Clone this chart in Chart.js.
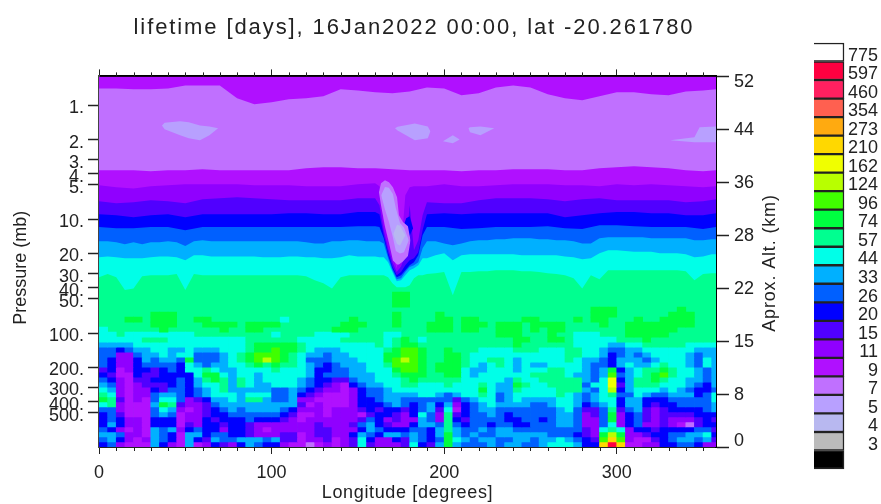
<!DOCTYPE html>
<html><head><meta charset="utf-8">
<script src="https://cdn.jsdelivr.net/npm/chart.js@4"></script>
<style>html,body{margin:0;padding:0;background:#fff;overflow:hidden}canvas{position:absolute;top:0}</style>
</head><body>
<canvas id="main" width="828" height="504" style="left:0"></canvas>
<canvas id="key" width="81" height="504" style="left:800px"></canvas>
<script>
const FONT='"Liberation Sans", Arial, sans-serif', INK='#222';
const pressureTicks=[1,2,3,4,5,10,20,30,40,50,100,200,300,400,500];
const altitudeLabels=['0','8','15','22','28','36','44','52'];
const lonMajor=[0,100,200,300];
const lonMinor=[10,20,30,40,50,60,70,80,90,110,120,130,140,150,160,170,180,190,210,220,230,240,250,260,270,280,290,310,320,330,340,350];
const keyLabels=['775','597','460','354','273','210','162','124','96','74','57','44','33','26','20','15','11','9','7','5','4','3',''];
const keyColors=['#ffffff','#ff0040','#ff2060','#ff6050','#ffaa10','#ffd800','#f0ff00','#b8ff00','#40ff00','#00ff40','#00ff90','#00ffe8','#00b0ff','#0060ff','#0000ff','#5000ff','#9000ff','#b010ff','#c070ff','#b8a0ff','#b8b8f0','#bbbbbb','#000000'];
const classColors={l:'#c070ff',p:'#b010ff',v:'#9000ff',i:'#5000ff',b:'#0000ff',m:'#0060ff',s:'#00b0ff',c:'#00ffe8',g:'#00ff90',G:'#00ff40',L:'#40ff00',y:'#b8ff00',Y:'#f0ff00',o:'#ffd800',X:'#ff0040',f:'#b8a0ff',h:'#b8b8f0'};

// contour boundaries: pressure (mb) against longitude
const lonC=[0,10,20,30,40,50,60,70,80,90,100,110,120,130,140,150,160,170,180,190,200,210,220,230,240,250,260,270,280,290,300,310,320,330,340,350,357.5];
const lonA=[0,10,20,30,40,50,60,70,80,90,100,110,120,130,140,150,160,162.5,165,167.5,170,172.5,175,177.5,180,182.5,185,187.5,190,200,210,220,230,240,250,260,270,280,290,300,310,320,330,340,350,357.5];
const lonB=[0,5,10,15,20,25,30,35,40,45,50,55,60,65,70,75,80,85,90,95,100,105,110,115,120,125,130,135,140,145,150,155,160,162.5,165,167.5,170,172.5,175,177.5,180,182.5,185,187.5,190,195,200,205,210,215,220,225,230,235,240,245,250,255,260,265,270,275,280,285,290,295,300,305,310,315,320,325,330,335,340,345,350,355,357.5];
const top9=[0.557,0.557];
const lonEnds=[0,357.5];
const edge7=[.71,.71,.724,.724,.71,.668,.668,.668,.868,.98,.941,.886,.868,.834,.724,.739,.769,.785,.754,.696,.71,.817,.785,.696,.668,.696,.801,.868,.904,.834,.769,.769,.801,.817,.754,.739,.724];
const edge9=[3.72,3.72,3.72,3.8,3.72,3.72,3.64,3.72,3.72,3.72,3.72,3.72,3.57,3.5,3.5,3.57,3.57,3.64,3.72,3.72,3.72,3.8,3.72,3.72,3.64,3.64,3.64,3.72,3.72,3.57,3.5,3.43,3.5,3.57,3.72,3.8,3.72];
const edge11=[5.03,5.25,5.36,5.14,5.03,4.93,4.93,4.93,4.93,5.03,5.03,5.03,5.14,5.14,5.14,4.93,4.83,5.14,10.6,15.3,20.7,26.9,18.7,6.16,5.25,5.14,5.14,5.14,5.14,4.93,5.14,5.14,5.03,4.93,4.93,4.93,5.03,5.03,5.14,4.93,5.03,4.93,5.03,5.14,5.25,5.14];
const edge15=[6.95,7.24,7.1,6.81,6.95,7.24,6.68,6.53,6.41,6.53,6.68,6.81,6.81,6.81,6.81,6.53,6.53,7.54,12.5,18,23.9,29.1,26,20.7,7.54,18.7,15.3,9.23,7.1,7.24,7.24,6.81,6.53,6.53,6.53,6.68,6.95,6.68,6.53,6.81,6.81,6.81,6.81,7.1,6.95,6.68];
const edge20=[9.03,9.23,9.6,9.23,9.03,9.6,9.03,9.03,9.03,9.03,9.03,8.85,8.85,9.03,9.03,8.66,8.66,9.03,13.8,19.5,26,31,29.1,25.3,22.9,22,19.5,12.5,9.03,8.85,9.03,8.85,8.85,8.85,8.85,8.85,9.6,9.23,8.85,8.66,8.66,8.85,8.85,9.23,9.23,8.85];
const edge26=[11.7,12,12,11.7,11.7,12.5,11.7,11.7,11.7,11.7,11.7,11.7,11.7,11.7,11.7,11.5,11.5,11.7,14.7,20.7,26.9,32.3,31,28,25.3,23.9,20.7,13.8,11.7,11.7,12.2,12,11.7,11.7,11.7,11.5,12,12.2,11.3,11.3,11.5,11.7,11.7,11.7,12.2,11.7];
const edge33=[15.6,15.6,15.9,16.6,15.9,16.6,15.9,15.9,15.6,15.9,17.2,15.6,15.3,15.6,15.6,15.6,15.6,15.6,15.6,15.6,15.6,15.6,15.6,15.6,15.9,16.3,16.3,15.6,15.6,15.3,15.3,15.6,15.6,15.6,16.3,22,28,33.6,33,29.1,26.3,25.3,23.9,18,15.6,15.6,16.3,16.9,16.3,15.6,15.3,15.3,15,15,14.7,14.7,14.7,15,15,15.3,15.3,15.6,16.3,16.3,14.7,14.4,14.4,14.4,14.4,14.4,14.7,14.7,14.7,14.7,14.7,15.3,15.3,15,15];
const edge44=[21.6,21.2,21.6,22,22,22,21.6,21.2,21.2,21.6,22.9,20.7,20.7,21.2,21.2,21.2,21.2,21.2,21.2,21.6,21.6,21.6,21.2,21.2,21.6,21.6,22,22,21.6,20.7,21.2,21.2,21.2,21.6,21.6,23.9,29.1,35,34.3,31,28,26.9,25.3,22,22,20.7,19.9,22.9,20.7,20.3,20.3,20.3,20.3,20.3,20.3,20.7,20.7,20.7,20.7,20.7,21.2,21.6,22.5,22,19.9,18.7,18.7,19,19.3,19.3,19.3,19.9,19.9,19.9,20.3,21.6,21.2,20.3,20.3];
const edge57=[32.3,30.3,32.3,41.9,40.5,31.6,31,31,31,30.3,41.9,30.3,31,31,31,31,31,31,31,31,31,31,31,31,31.6,34.3,36.4,40.5,32.3,31,31,31,31,31,31,32.3,36.4,39.6,39.6,39.6,37.9,33,31,31,30.3,29.8,29.1,46.4,29.1,29.1,28.6,28.6,28,28,28,28.6,28.6,29.1,29.8,30.3,31,33,40.5,31,33.6,28,28,28,28,28,28,28,28,28,28.6,34.3,30.3,29.8,29.8];

// closed islands: longitude, upper pressure, lower pressure
const isleA={lon:[36.5,38,47,52,58.5,64,69],hi:[1.5,1.42,1.38,1.41,1.5,1.53,1.59],lo:[1.5,1.62,1.83,1.95,2.03,1.83,1.59]};
const isleB={lon:[171.5,173,183,190.5,192],hi:[1.59,1.54,1.44,1.53,1.69],lo:[1.59,1.66,2.03,1.95,1.69]};
const isleC={lon:[199.3,205,209],hi:[2.07,1.83,1.99],lo:[2.07,2.15,1.99]};
const isleD={lon:[214,215,221,229],hi:[1.59,1.56,1.53,1.59],lo:[1.59,1.72,1.83,1.59]};
const isleE={lon:[331,345,348,357.5],hi:[2.03,1.91,1.56,1.53],lo:[2.03,2.11,2.11,2.11]};
const spotBlue={lon:[176,178,180,182],hi:[12,9.8,9.42,12],lo:[12,14,14,12]};
const plume7={lon:[162.2,163.4,165.7,168,170.3,172.7,173.8,176.1,179,180.5],hi:[5.8,4.83,4.55,4.74,5.25,6.41,9.23,10.6,11.5,15.3],lo:[5.8,7.54,11.5,16,23,25,25,23.5,21,15.3]};
const plume5={lon:[163.5,165.7,168,170.3,172,174.4,176.7,179.5],hi:[6.16,5.2,5.3,6,8,10.8,11.8,15.3],lo:[6.16,8.2,10.6,14.5,19,20,19.5,15.3]};
const plume4={lon:[170.5,172.7,174.4,177.5],hi:[13.5,11.2,11.4,13.8],lo:[13.5,16.5,17,13.8]};

// lower field, one string per pressure layer, one letter per 5 degree column
const layerEdges=[43.7,48.3,53.5,59.2,65.4,72.4,80.1,88.6,98,108.4,119.9,132.7,146.7,162.4,179.6,198.7,219.9,243.2,269.1,297.6,329.2,364.2,402.9,445.7,493.2,545.6,603.7,667.8,738.7,817.5,904,1000];
const field=[
'...... ...... ...... ...... ...... ....GG ...... ...... ...... ...... ...... ......',
'...... ...... ...... ...... ...... ....GG ...... ...... ...... ...... ...... ......',
'...... ...... ...... ...... ...... ....GG ...... ...... ...... ...... ...... ......',
'...... ...... ...... ...... ...... ...... ...... ...... ...... ...GGG ...... .G....',
'...... GGG... ...... ...... ...... ....G. ...G.. ...... ...... ...GGG ...... GGG...',
'...GG. GGG..G G..... ...c.. .....G ....G. ...GG. GG.... .GG... .G.GG. ..G..G GGG...',
'...... GGG... GGGG.G GGG... ....GG G...G. ..GGG. GGG.GG G.GGGG ....G. .GGGGG GGG...',
'c..... .G.... ..G..G G..... ...GGG ...... ..GGG. GG..GG G.G.GG ...... .GGGGG G.....',
'cc.ccc ccccc. ...... ..c... .cccc. ...cc. ...... ....GG G...G. .ccc.. .GGGGG ......',
'cccccg ggcccc cccccg gggggc ccccgg gggcgG gcgggg gggggg GGggGG gccccc gggGgg gggggg',
'sssscc cccccc cccccg GGGGGg cccccc ccgcgG Gggggg gggggg Gggggg gccccs sccggg ggcccc',
'mmbmss ccsscs sscccg GGLGGg cssscc cccgGL LGggGg ggcccc gggccc ggccsm mssccc cccsss',
'mmvvms scsccm mmscgG LLLGgc ssmssc cccGGL LGggGG gccccc cccccc ggccsb msmscc ccsmss',
'mbvvbs mssmGm mmscgG LyLGgc mmmsss cccGLy LGggGG gccggc sccccc gcssmb sssmsc ccsmcs',
'mbvvbm mmmbcs mssccg GgGggc smbmss sccgLL LGgGGG gcscgc scsscc ccsmmb scsscg ccsmcs',
'ibpvbb ibmbcc gcsscc ccgccc sbbmms scccGL LGgGGG cssccc scccgg ccsmsG bscggG gccsms',
'bippbi ibbbbc GGcscc sccccc sbmmms ssccgG GGggGG cscccc ccgggg cssmsL mscgGL gccsms',
'mbvpii bbbmbs gGgsgc sccccs mbbiim sscccg Gggggg cccccs gccggg ggsmcY bsggGg ccssms',
'smvpvi iibmbs ccgsgc sscccs mbivpb mssccg gcccgc ccgcss Ggccgg ggmccY isgggc ccsmbs',
'csvpvv bimmbm scgsss ssmmsm bivvpv bmmscc cccccc ccGcss gccccg ggsmcy bscccs csmbbm',
'gcvpvv mssmbm scccsc ccmmsb ivpppv bmmsss sccsms ccgcms cccccg csmscg mmcsmm sssbmc',
'Ggipvp mccmvi bsscsg gsmmsv vppppv bbmssm mmmmmi msccms cssssc csmscc bssbbb mmmmmc',
'cgvppp sGgivv imssss sssssi pvpppv bbbmsm bmsbsv bmscss ssmmsc csbmsc bssbib bmmmms',
'mmvppp mcsvpv ibmsms sssmbv vvpvvv ibibbi bmsicp bmssmm mmmmms cmiimg imsivi bbbbms',
'bmippp msmpvv ibbmmm mmmbip pvpvvv pibbiv bcmvgi bmmsmb mmmmms smvimG vbmivi iiibbb',
'bmbvvp bbbpvv bibbbm bbbivp vvvvvv imbviv vsmvgb immmmb bmmbms smvvmG vbmivi vvvibi',
'bsbvvp bbbpiv bbibbi vvvvvv vivvvi msbivv bssmgm bmmbmm bbmmms smvvmc vbmvvi vplibb',
'mbvpvp smsvbm bbvbbi vpvvvv viivvv bsmbbb mmbsgs mmsmss mmmmmm mmivcg cvbbib bbbmmi',
'ssmvvp smbpss bmmbbi vvviip viivvb smbssm smbsGs msmmss ssssmm mbivGy Gvvibb mmsscb',
'msbvpv smbpsb ismmss smsiip vvipvi cbvvbi smbmGc smssmm ssmssc smbiLo Lvppib mssmsi',
'bmvppp sbvpsp vbivbs mbbvpp lpvpvi civvvi cbisGs mmmsms smmscc csbboX oppvvb bmmbvv'
];

let rank=1000;
function band(lons,vals,color){
  return {type:'line',xAxisID:'x',yAxisID:'y',data:lons.map((x,i)=>({x,y:vals[i]})),fill:'start',backgroundColor:color,borderWidth:0,pointRadius:0,tension:0,order:rank--};
}
const datasets=[
  band(lonEnds,top9,classColors.p),
  band(lonC,edge7,classColors.l),
  band(lonC,edge9,classColors.p),
  band(lonA,edge11,classColors.v),
  band(lonA,edge15,classColors.i),
  band(lonA,edge20,classColors.b),
  band(lonA,edge26,classColors.m),
  band(lonB,edge33,classColors.s),
  band(lonB,edge44,classColors.c),
  band(lonB,edge57,classColors.g)
];
function isle(s,color){
  const order=rank--;
  const pts=a=>s.lon.map((x,i)=>({x,y:a[i]}));
  datasets.push({type:'line',xAxisID:'x',yAxisID:'y',data:pts(s.hi),fill:'+1',backgroundColor:color,borderWidth:0,pointRadius:0,tension:0,order});
  datasets.push({type:'line',xAxisID:'x',yAxisID:'y',data:pts(s.lo),fill:false,borderWidth:0,pointRadius:0,tension:0,order});
}
isle(isleA,classColors.f);isle(isleB,classColors.f);isle(isleC,classColors.f);isle(isleD,classColors.f);isle(isleE,classColors.f);
isle(spotBlue,classColors.b);isle(plume7,classColors.l);isle(plume5,classColors.f);isle(plume4,classColors.h);
field.forEach((row,r)=>{
  const cells=row.replace(/ /g,'').split('');
  const data=[],colors=[];
  cells.forEach((c,k)=>{
    if(c==='.'||!classColors[c])return;
    data.push({x:2.5+5*k,y:[layerEdges[r],layerEdges[r+1]]});
    colors.push(classColors[c]);
  });
  datasets.push({type:'bar',xAxisID:'x',yAxisID:'y',data,backgroundColor:colors,borderWidth:0,barPercentage:1,categoryPercentage:1,grouped:false,order:10});
});

const txt=size=>({family:FONT,size,weight:'normal'});
const lonTick=v=>lonMajor.includes(v)?String(v):'';
function spaced(obj,key,ctx,gap){
  const orig=obj[key];
  obj[key]=function(...a){ctx.letterSpacing=gap;orig.apply(this,a);ctx.letterSpacing='0px';};
}
const marks={id:'marks',
  beforeDraw(chart){
    const s=chart.scales.yAlt,items=s.getLabelItems(chart.chartArea);
    if(!s._nudged){s._nudged=true;
      items[0].options.translation[1]-=7;
      items[items.length-1].options.translation[1]+=5;
      spaced(chart.titleBlock,'draw',chart.ctx,'1.9px');
      spaced(chart.scales.x,'drawTitle',chart.ctx,'0.65px');
      const y=chart.scales.y,orig=y.drawTitle;
      y.drawTitle=function(...a){chart.ctx.save();chart.ctx.translate(0,6);orig.apply(this,a);chart.ctx.restore();};}
  },
  afterDraw(chart){
    const {ctx,scales:{x}}=chart,a=chart.chartArea;
    ctx.save();ctx.strokeStyle=INK;ctx.lineWidth=1;ctx.beginPath();
    lonMinor.forEach(v=>{const p=Math.round(x.getPixelForValue(v))+.5;
      ctx.moveTo(p,a.bottom);ctx.lineTo(p,a.bottom+4);
      ctx.moveTo(p,a.top);ctx.lineTo(p,a.top-4);});
    ctx.stroke();
    ctx.fillStyle=INK;ctx.font='18px '+FONT;ctx.textAlign='center';ctx.textBaseline='middle';
    ctx.letterSpacing='0.85px';
    ctx.translate(770,263);ctx.rotate(-Math.PI/2);ctx.fillText('Aprox. Alt. (km)',0,0);
    ctx.letterSpacing='0px';
    ctx.restore();
  }};
new Chart(document.getElementById('main'),{
  type:'line',
  data:{datasets},
  plugins:[marks],
  options:{responsive:false,animation:false,events:[],layout:{padding:0},
    plugins:{legend:{display:false},tooltip:{enabled:false},
      title:{display:true,text:'lifetime [days], 16Jan2022 00:00, lat -20.261780',color:INK,font:txt(22),padding:{top:15,bottom:28}}},
    scales:{
      x:{type:'linear',position:'bottom',offset:false,min:0,max:357.5,afterFit:s=>{s.height=57},
        grid:{offset:false,drawOnChartArea:false,tickLength:7,color:INK,tickColor:INK},border:{color:INK,width:2},
        ticks:{stepSize:100,includeBounds:false,autoSkip:false,maxRotation:0,padding:8,color:INK,font:txt(18),callback:lonTick},
        title:{display:true,text:'Longitude [degrees]',color:INK,font:txt(18),padding:{top:0,bottom:0}}},
      xTop:{type:'linear',position:'top',offset:false,min:0,max:357.5,afterFit:s=>{s.height=7},
        grid:{offset:false,drawOnChartArea:false,tickLength:7,color:INK,tickColor:INK},border:{color:'#000',width:2},
        ticks:{display:false,stepSize:100,includeBounds:false}},
      y:{type:'logarithmic',position:'left',reverse:true,min:0.557,max:1000,afterFit:s=>{s.width=99},
        afterBuildTicks:s=>{s.ticks=pressureTicks.map(value=>({value}))},
        grid:{drawOnChartArea:false,tickLength:11,color:INK,tickColor:INK,tickWidth:1.5},border:{color:'#444',width:2},
        ticks:{autoSkip:false,maxRotation:0,padding:4,labelOffset:3,color:INK,font:txt(18),callback:v=>v+'.'},
        title:{display:true,text:'Pressure (mb)',color:INK,font:txt(18),padding:{top:10,bottom:0}}},
      yAlt:{type:'linear',position:'right',min:0,max:7,afterFit:s=>{s.width=112},
        grid:{drawOnChartArea:false,tickLength:13,color:INK,tickColor:INK,tickWidth:1.5},border:{color:'#000',width:2},
        ticks:{stepSize:1,autoSkip:false,maxRotation:0,padding:5,labelOffset:1,color:INK,font:txt(18),callback:v=>altitudeLabels[v]}}
    }}
});
new Chart(document.getElementById('key'),{
  type:'bar',
  data:{labels:keyLabels,datasets:[{data:keyLabels.map(()=>1),backgroundColor:keyColors,borderColor:'#222',borderWidth:1.5,barPercentage:1,categoryPercentage:1,clip:false}]},
  options:{indexAxis:'y',responsive:false,animation:false,events:[],
    layout:{padding:{left:14,right:3,top:43,bottom:35}},
    plugins:{legend:{display:false},tooltip:{enabled:false}},
    scales:{
      x:{display:false,min:0,max:1},
      y:{position:'right',afterFit:s=>{s.width=34},grid:{display:false},border:{display:false},
        ticks:{autoSkip:false,padding:2,labelOffset:3.5,crossAlign:'far',color:INK,font:txt(18)}}
    }}
});
</script>
</body></html>
